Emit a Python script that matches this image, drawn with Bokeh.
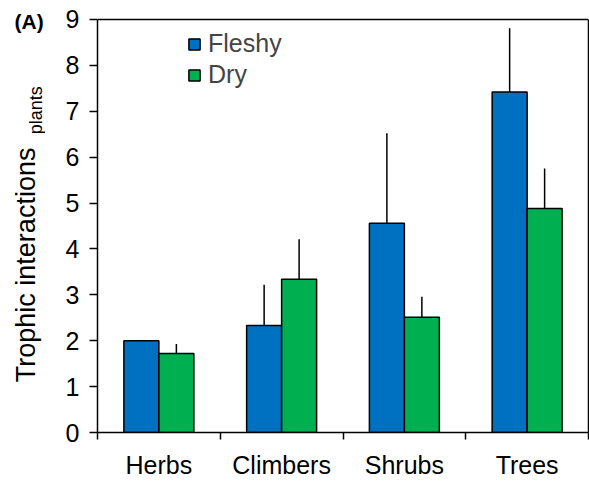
from bokeh.plotting import figure
from bokeh.layouts import row
from bokeh.models import (FixedTicker, Label, Legend, LegendItem, ColumnDataSource, Range1d,
                          LinearAxis, Span)
from bokeh.embed import file_html
from bokeh.resources import INLINE
import math

# ---- data ----
categories = ["Herbs", "Climbers", "Shrubs", "Trees"]
fleshy = [2.0, 2.33, 4.56, 7.42]
fleshy_upper = [2.0, 3.22, 6.52, 8.81]
dry = [1.72, 3.34, 2.51, 4.88]
dry_upper = [1.93, 4.21, 2.96, 5.75]
y_ticks = [0, 1, 2, 3, 4, 5, 6, 7, 8, 9]
y_max = 9

BLUE = "#0070C0"
GREEN = "#00B050"
FONT = "Liberation Sans"
BAR_W = 0.285

centers = [i + 0.5 for i in range(len(categories))]
x_fleshy = [c - BAR_W / 2 for c in centers]
x_dry = [c + BAR_W / 2 for c in centers]

src_f = ColumnDataSource(dict(x=x_fleshy, top=fleshy, up=fleshy_upper))
src_d = ColumnDataSource(dict(x=x_dry, top=dry, up=dry_upper))

W, H = 589, 481
BOTTOM = 48
LW = 45
AXIS_TOP_PX = 19                       # page y of the top of the axes box
PX_PER_UNIT = (H - BOTTOM - AXIS_TOP_PX) / y_max

# ---- strip on the left carrying the y-axis title and panel tag ----
# its frame is aligned with the main frame (page y 0..433); range = page pixels from bottom
lab = figure(width=LW, height=H, output_backend="svg", toolbar_location=None,
             x_range=Range1d(0, LW), y_range=Range1d(BOTTOM, H),
             x_axis_location=None, y_axis_location=None,
             min_border=0, min_border_left=0, min_border_right=0,
             min_border_top=0, min_border_bottom=BOTTOM)
lab.grid.visible = False
lab.outline_line_color = None
lab.add_layout(Label(x=25, y=H - 265, text="Trophic interactions", angle=math.pi / 2,
                     text_align="center", text_baseline="middle",
                     text_font=FONT, text_font_size="27px", text_color="black"))
lab.add_layout(Label(x=35, y=H - 110, text="plants", angle=math.pi / 2,
                     text_align="center", text_baseline="middle",
                     text_font=FONT, text_font_size="18px", text_color="black"))
lab.add_layout(Label(x=14, y=H - 21, text="(A)", text_align="left", text_baseline="middle",
                     text_font=FONT, text_font_size="21px", text_font_style="bold",
                     text_color="black"))

# ---- main chart ----
p = figure(width=W - LW, height=H, output_backend="svg", toolbar_location=None,
           x_range=Range1d(0, 4),
           y_range=Range1d(0, y_max + AXIS_TOP_PX / PX_PER_UNIT),
           min_border_left=97 - LW, min_border_right=1,
           min_border_top=0, min_border_bottom=BOTTOM)
p.grid.visible = False
p.outline_line_color = None
p.background_fill_color = "white"

# error bars (upward only, no caps)
p.segment(x0="x", y0="top", x1="x", y1="up", source=src_f, line_color="black", line_width=1.5)
p.segment(x0="x", y0="top", x1="x", y1="up", source=src_d, line_color="black", line_width=1.5)

rf = p.vbar(x="x", top="top", width=BAR_W, bottom=0, source=src_f,
            fill_color=BLUE, line_color="black", line_width=1.5)
rd = p.vbar(x="x", top="top", width=BAR_W, bottom=0, source=src_d,
            fill_color=GREEN, line_color="black", line_width=1.5)

# top edge of the axes box
p.add_layout(Span(location=y_max, dimension="width", line_color="black", line_width=1.5))

# y axis
ya = p.yaxis[0]
ya.ticker = FixedTicker(ticks=y_ticks)
ya.bounds = (0, y_max)
ya.major_tick_out = 8
ya.major_tick_in = 0
ya.minor_tick_out = 0
ya.minor_tick_in = 0
ya.axis_line_width = 1.5
ya.major_tick_line_width = 1.5
ya.major_label_text_font = FONT
ya.major_label_text_font_size = "25px"
ya.major_label_text_color = "black"
ya.major_label_standoff = 10

# right edge of the axes box (an axis with no ticks)
ra = LinearAxis(ticker=FixedTicker(ticks=[]), bounds=(0, y_max),
                axis_line_width=1.5, major_tick_out=0, major_tick_in=0,
                minor_tick_out=0, minor_tick_in=0, major_label_standoff=0,
                major_label_text_font_size="0px")
p.add_layout(ra, "right")

# x axis
xa = p.xaxis[0]
xa.ticker = FixedTicker(ticks=centers, minor_ticks=[0, 1, 2, 3, 4])
xa.major_label_overrides = {c: name for c, name in zip(centers, categories)}
xa.major_tick_out = 0
xa.major_tick_in = 0
xa.minor_tick_out = 7
xa.minor_tick_in = 0
xa.minor_tick_line_width = 1.5
xa.minor_tick_line_color = "black"
xa.axis_line_width = 1.5
xa.major_label_text_font = FONT
xa.major_label_text_font_size = "25px"
xa.major_label_text_color = "black"
xa.major_label_standoff = 11

legend = Legend(items=[LegendItem(label="Fleshy", renderers=[rf]),
                       LegendItem(label="Dry", renderers=[rd])],
                location=(90, 343), padding=0, margin=0, spacing=2,
                glyph_width=14, glyph_height=14, label_standoff=7,
                label_text_font=FONT, label_text_font_size="25px",
                border_line_alpha=0, background_fill_alpha=0)
p.add_layout(legend)

layout = row(lab, p, spacing=0)
open("out.html", "w").write(file_html(layout, INLINE))
